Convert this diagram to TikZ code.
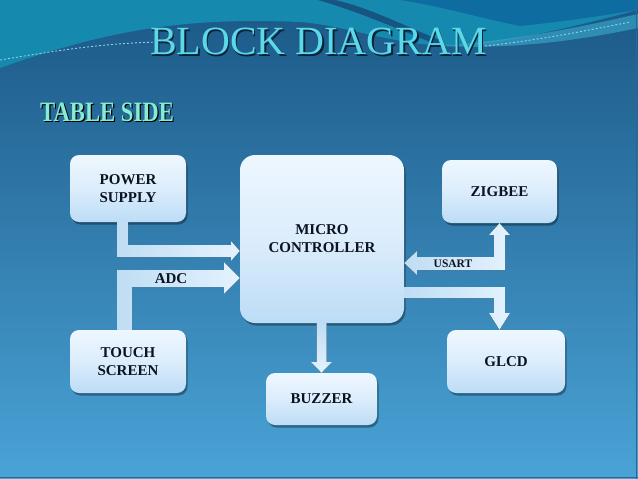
\documentclass[tikz,border=0pt]{standalone}
\usepackage{fontspec}
\setmainfont{Liberation Serif}
\usetikzlibrary{shadows,calc}
\definecolor{bgtop}{HTML}{1B5886}
\definecolor{bgbot}{HTML}{4AA3D6}
\definecolor{wavecol}{HTML}{1689AF}
\definecolor{wavetr}{HTML}{0F6CA0}
\definecolor{wavedark}{HTML}{174C7A}
\definecolor{wavelight}{HTML}{3DB5D6}
\definecolor{boxtop}{HTML}{EEF7FF}
\definecolor{boxmid}{HTML}{DCEDFC}
\definecolor{boxbot}{HTML}{BCDCF6}
\definecolor{arrowl}{HTML}{BFDDF4}
\definecolor{arrowr}{HTML}{E4F2FD}
\definecolor{txtc}{HTML}{0B1220}
\definecolor{titlec}{HTML}{5CD9E8}
\definecolor{subc}{HTML}{86EDD2}
\definecolor{shadc}{HTML}{0A2236}
\definecolor{edgec}{HTML}{2A6790}
\newcommand{\shadowtext}[4]{\makebox[0pt][l]{\hspace{#1}\raisebox{-#2}{\textcolor{#3}{#4}}}#4}
\tikzset{
  blockbox/.style={rounded corners=9pt, top color=boxtop, bottom color=boxbot, middle color=boxmid,
    drop shadow={shadow xshift=1.5pt, shadow yshift=-2.5pt, fill=black, opacity=0.35},
    font=\fontsize{15}{18}\selectfont\bfseries, text=txtc, align=center, inner sep=0pt},
  blockarrow/.style={left color=arrowl, right color=arrowr, draw=none},
  vblockarrow/.style={top color=arrowl, bottom color=arrowr, draw=none},
  arrowlabel/.style={font=\fontsize{15}{18}\selectfont\bfseries, text=txtc, inner sep=0pt},
  dashwave/.style={draw=wavelight!60!white, line width=0.9pt, dash pattern=on 2pt off 2pt}
}
\begin{document}
\begin{tikzpicture}[x=1pt,y=-1pt]
\useasboundingbox (0,0) rectangle (638,479);
% background
\shade[top color=bgtop, bottom color=bgbot] (0,0) rectangle (638,479);
\fill[wavecol] (0,0) -- (638,0) -- (638,10) .. controls (560,30) and (480,50) .. (430,45)
  .. controls (380,40) and (340,25) .. (300,22) .. controls (200,18) and (120,25) .. (0,68) -- cycle;
\fill[wavetr] (400,0) -- (638,0) -- (638,10) .. controls (600,16) and (560,22) .. (520,26) .. controls (480,18) and (440,6) .. (400,0) -- cycle;
\fill[wavedark, opacity=0.85] (318,0) .. controls (360,12) and (400,30) .. (440,46) -- (440,40) .. controls (400,24) and (370,8) .. (335,0) -- cycle;
\fill[wavelight, opacity=0.55] (440,46) .. controls (520,40) and (590,25) .. (638,14) -- (638,28) .. controls (590,38) and (520,50) .. (440,46) -- cycle;
\draw[dashwave] (0,60) .. controls (60,50) and (110,42) .. (170,42);
\draw[dashwave] (485,46) .. controls (540,40) and (590,30) .. (630,22);
\draw[edgec, line width=1.5pt] (0,477.5) -- (638,477.5);
\draw[edgec, line width=1.5pt] (636.5,0) -- (636.5,479);
% titles
\node[text=titlec, font=\fontsize{40}{40}\selectfont] (title) at (318.5,42.5) {\shadowtext{1.5pt}{1.5pt}{shadc}{BLOCK DIAGRAM}};
\node[text=subc, font=\fontsize{28}{28}\selectfont\bfseries, xscale=0.81] (sub) at (107,113) {\shadowtext{1.5pt}{1.5pt}{black}{TABLE SIDE}};
% blocks
\node[blockbox, minimum width=116pt, minimum height=67pt] (ps) at (128,188.5) {POWER\\SUPPLY};
\node[blockbox, minimum width=164pt, minimum height=168pt, rounded corners=15pt] (mc) at (322,239) {MICRO\\CONTROLLER};
\node[blockbox, minimum width=115pt, minimum height=63pt] (zb) at (499.5,191.5) {ZIGBEE};
\node[blockbox, minimum width=116pt, minimum height=63pt] (ts) at (128,361.5) {TOUCH\\SCREEN};
\node[blockbox, minimum width=111pt, minimum height=52pt] (bz) at (321.5,399) {BUZZER};
\node[blockbox, minimum width=118pt, minimum height=63pt] (gl) at (506,361.5) {GLCD};
% block arrows
\fill[blockarrow] (117,0 |- ps.south) -- (128,0 |- ps.south) -- (128,245) -- (231,245) -- (231,241)
  -- (mc.west |- 0,251) -- (231,261) -- (231,257) -- (117,257) -- cycle;
\fill[blockarrow] (117,0 |- ts.north) -- (117,270) -- (224,270) -- (224,262) -- (mc.west |- 0,278)
  -- (224,294) -- (224,287) -- (132,287) -- (132,0 |- ts.north) -- cycle;
\node[arrowlabel] (adc) at (171,279) {ADC};
\fill[vblockarrow] (316.5,0 |- mc.south) -- (326.5,0 |- mc.south) -- (326.5,362) -- (332,362) -- (bz.north)
  -- (311,362) -- (316.5,362) -- cycle;
\fill[blockarrow] (mc.east |- 0,263) -- (417,251) -- (417,257) -- (494,257) -- (494,235) -- (489,235)
  -- (zb.south) -- (510,235) -- (505,235) -- (505,270) -- (417,270) -- (417,275) -- cycle;
\node[arrowlabel, font=\fontsize{11.5}{12}\selectfont\bfseries] (usart) at (453,264) {USART};
\fill[blockarrow] (mc.east |- 0,287) -- (505,287) -- (505,313) -- (510,313) -- (499.5,0 |- gl.north)
  -- (489,313) -- (494,313) -- (494,298) -- (mc.east |- 0,298) -- cycle;
\end{tikzpicture}
\end{document}
